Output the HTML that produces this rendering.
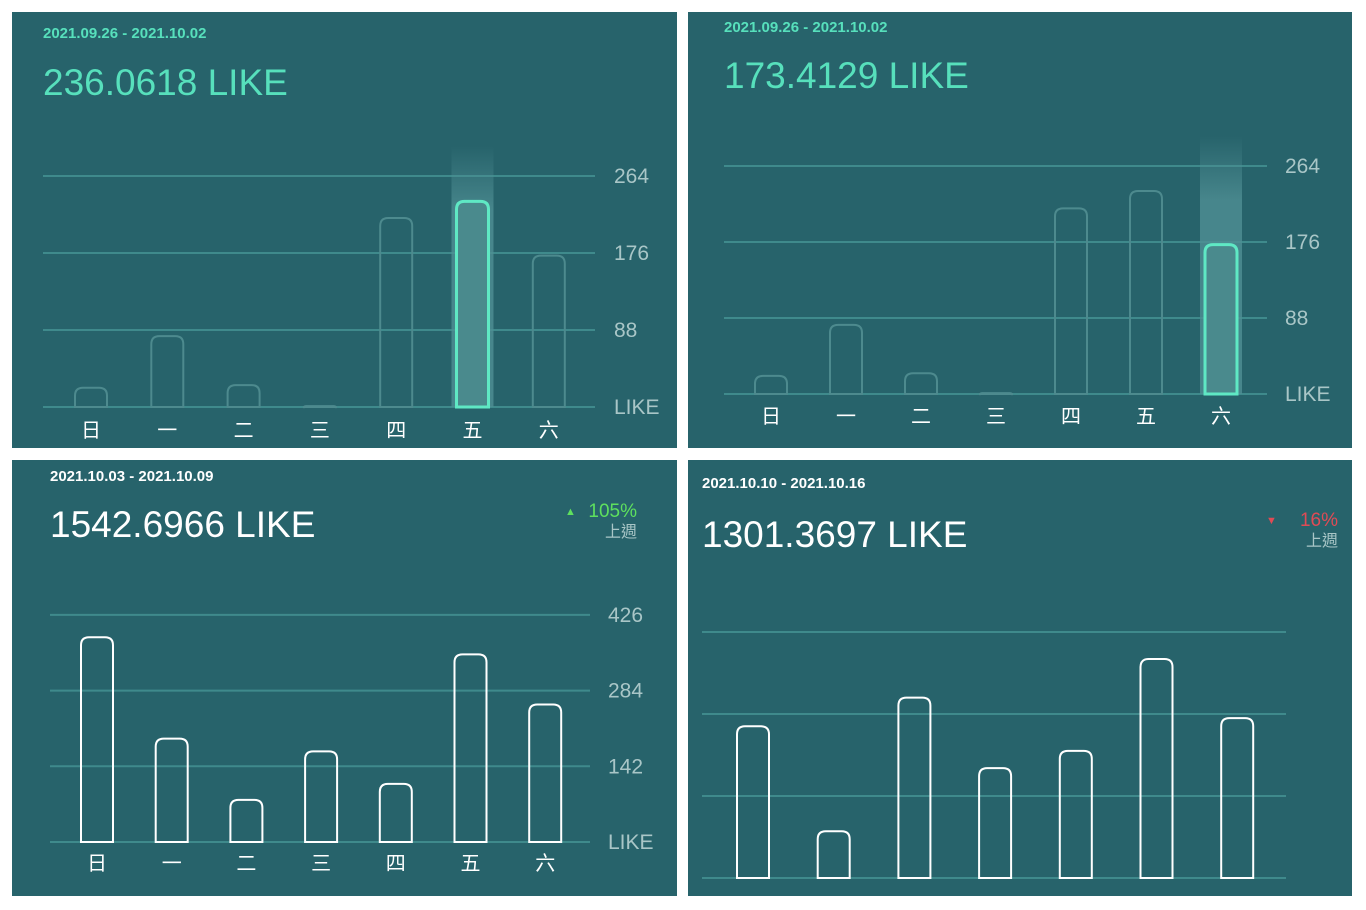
<!DOCTYPE html>
<html><head><meta charset="utf-8"><style>
body{margin:0;background:#fff;width:1366px;height:910px;overflow:hidden}
svg{display:block}
text{font-family:"Liberation Sans","Noto Sans CJK TC",sans-serif}
</style></head><body>
<svg id="s" width="1366" height="910">
<defs>
<linearGradient id="glow" x1="0" y1="0" x2="0" y2="1">
<stop offset="0" stop-color="#4f8f94" stop-opacity="0"/><stop offset="0.25" stop-color="#4f8f94" stop-opacity="0.8"/><stop offset="1" stop-color="#4f8f94" stop-opacity="0.8"/>
</linearGradient>
</defs>
</svg>
<script>
const days=["日","一","二","三","四","五","六"];
const ticks1=["LIKE","88","176","264"];
const vals1=[22,81,25,1,216,235,173];
const ticks2=["LIKE","88","176","264"];
const vals2=[21,80,24,1,215,235,173];
const ticks3=["LIKE","142","284","426"];
const vals3=[384,194,79,170,109,352,258];
const vals4=[185,57,220,134,155,267,195];
const tickStep1=88, tickStep2=88, tickStep3=142, tickStep4=100;

const NS="http://www.w3.org/2000/svg";
const svg=document.getElementById('s');
function mk(tag,attrs,parent){const e=document.createElementNS(NS,tag);for(const k in attrs)e.setAttribute(k,attrs[k]);(parent||svg).appendChild(e);return e;}

const panels=[
 {x:12,y:12,w:665,h:436,vals:vals1,ticks:ticks1,step:tickStep1,base:407,gap:77,gx0:43,gx1:595,lx:614,c0:91,dc:76.3,date:"2021.09.26 - 2021.10.02",dy:38,total:"236.0618 LIKE",ty:95,tx:43,col:"#57e0bc",bar:"#4d8a8e",hi:5,hiCol:"#5fe8c4",days:true,dayY:437},
 {x:688,y:12,w:664,h:436,vals:vals2,ticks:ticks2,step:tickStep2,base:394,gap:76,gx0:724,gx1:1267,lx:1285,c0:771,dc:75,date:"2021.09.26 - 2021.10.02",dy:32,total:"173.4129 LIKE",ty:88,tx:724,col:"#57e0bc",bar:"#4d8a8e",hi:6,hiCol:"#5fe8c4",days:true,dayY:423},
 {x:12,y:460,w:665,h:436,vals:vals3,ticks:ticks3,step:tickStep3,base:842,gap:75.7,gx0:50,gx1:590,lx:608,c0:97,dc:74.7,date:"2021.10.03 - 2021.10.09",dy:481,total:"1542.6966 LIKE",ty:537,tx:50,col:"#ffffff",bar:"#ffffff",hi:-1,days:true,dayY:870,chg:"105%",chgCol:"#5ee05e",up:true,cx:637,cy:517},
 {x:688,y:460,w:664,h:436,vals:vals4,ticks:null,step:tickStep4,base:878,gap:82,gx0:702,gx1:1286,lx:0,c0:753,dc:80.7,date:"2021.10.10 - 2021.10.16",dy:488,total:"1301.3697 LIKE",ty:547,tx:702,col:"#ffffff",bar:"#ffffff",hi:-1,days:false,chg:"16%",chgCol:"#e04b55",up:false,cx:1338,cy:526}
];
panels.forEach((p,pi)=>{
 const g=mk('g',{});
 
 
 const bg=mk('rect',{x:p.x,y:p.y,width:p.w,height:p.h,fill:'#27636b'},g);
 
 const dt=mk('text',{x:p.tx,y:p.dy,fill:p.col,'font-size':15,'font-weight':'bold'},g);dt.textContent=p.date;
 
 const tt=mk('text',{x:p.tx,y:p.ty,fill:p.col,'font-size':37},g);tt.textContent=p.total;
 
 const yOf=v=>p.base-v/p.step*p.gap;
 for(let i=0;i<4;i++){
  const y=yOf(i*p.step);
  const l=mk('line',{x1:p.gx0,x2:p.gx1,y1:y,y2:y,stroke:'#3f8a8c','stroke-width':2},g);
  
  if(p.ticks){const t=mk('text',{x:p.lx,y:y+7,fill:'#a9c6c7','font-size':21},g);t.textContent=p.ticks[i];
   }
 }
 p.vals.forEach((v,i)=>{
  const cx=p.c0+i*p.dc, top=yOf(v), w=32;
  if(i===p.hi){const gr=mk('rect',{x:cx-21,y:yOf(p.step*3)-30,width:42,height:p.base-yOf(p.step*3)+30,fill:'url(#glow)'},g);
   }
  const h=Math.max(p.base-top,2), r=Math.min(8,h);
  const d=`M${cx-w/2},${p.base} V${top+r} Q${cx-w/2},${top} ${cx-w/2+r},${top} H${cx+w/2-r} Q${cx+w/2},${top} ${cx+w/2},${top+r} V${p.base} Z`;
  const isHi=i===p.hi;
  const b=mk('path',{d:d,fill:isHi?'#4a8a8d':'none',stroke:isHi?p.hiCol:p.bar,'stroke-width':isHi?3:2},g);
  
  if(p.days){const t=mk('text',{x:cx,y:p.dayY,fill:'#ffffff','font-size':20,'text-anchor':'middle'},g);t.textContent=days[i];
   }
 });
 if(p.chg){
  const tri=mk('text',{x:p.cx-72,y:p.cy-2,fill:p.chgCol,'font-size':11},g);tri.textContent=p.up?'▲':'▼';
  
  const c=mk('text',{x:p.cx,y:p.cy,fill:p.chgCol,'font-size':19,'text-anchor':'end'},g);c.textContent=p.chg;
  
  const w=mk('text',{x:p.cx,y:p.cy+20,fill:'#a9c6c7','font-size':16,'text-anchor':'end'},g);w.textContent='上週';
  
 }
});
</script>
</body></html>
